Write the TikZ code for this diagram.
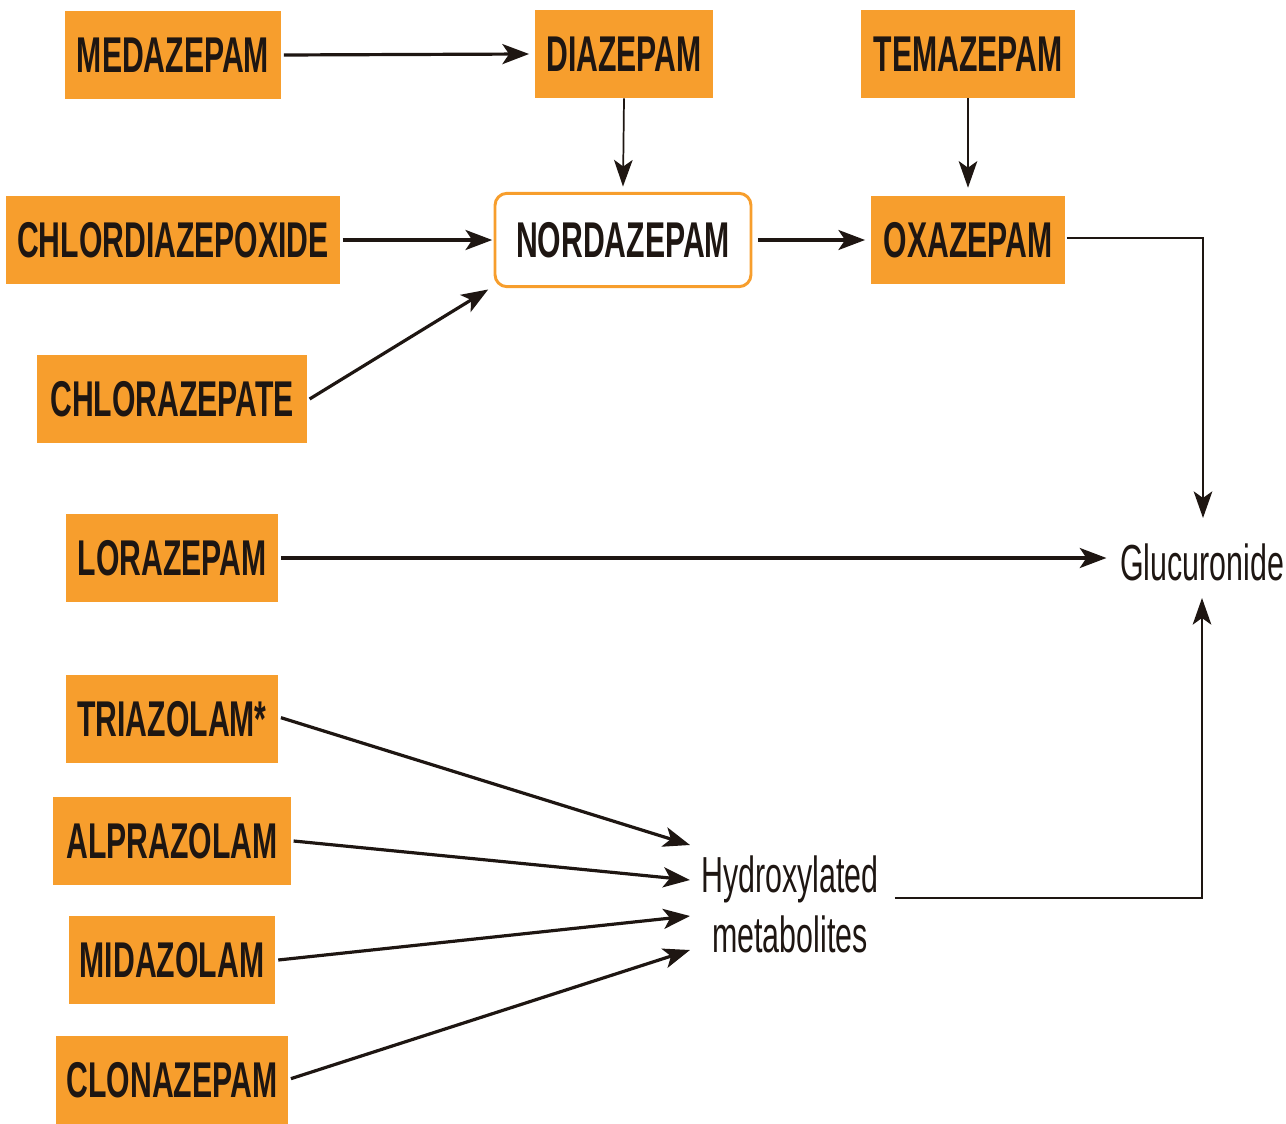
\documentclass[tikz,border=0pt]{standalone}
\usepackage{fontspec}
\usetikzlibrary{arrows.meta}
\newfontfamily\boxfont[FakeStretch=0.6]{Liberation Sans}
\definecolor{boxorange}{RGB}{247,158,45}
\definecolor{txt}{RGB}{30,22,18}
\begin{document}
\begin{tikzpicture}[x=0.75pt,y=-0.75pt,
  drug/.style={fill=boxorange, draw=none, text=txt, minimum height=66pt, inner sep=0pt,
    font=\boxfont\bfseries\fontsize{37.7}{40}\selectfont},
  plain/.style={text=txt, inner sep=2pt, align=center,
    font=\boxfont\fontsize{38}{44}\selectfont},
  thick arrow/.style={draw=txt, line width=2.4pt, -{Stealth[length=20pt,width=15pt,inset=5pt]}},
  thin arrow/.style={draw=txt, line width=1.3pt, -{Stealth[length=20pt,width=14pt,inset=5pt]}}]
\useasboundingbox (0,0) rectangle (1286,1124);
% boxes
\node[drug, minimum width=162pt] (med) at (173,55) {MEDAZEPAM};
\node[drug, minimum width=134pt] (dia) at (624,54) {DIAZEPAM};
\node[drug, minimum width=161pt] (tem) at (968,54) {TEMAZEPAM};
\node[drug, minimum width=250pt] (chl) at (173,240) {CHLORDIAZEPOXIDE};
\node[drug, fill=white, draw=boxorange, line width=2.2pt, rounded corners=9pt, minimum width=192pt, minimum height=70pt] (nor) at (623,240) {NORDAZEPAM};
\node[drug, minimum width=146pt] (oxa) at (968,240) {OXAZEPAM};
\node[drug, minimum width=202pt] (cra) at (172,399) {CHLORAZEPATE};
\node[drug, minimum width=159pt] (lor) at (172,558) {LORAZEPAM};
\node[drug, minimum width=159pt] (tri) at (172,719) {TRIAZOLAM*};
\node[drug, minimum width=178pt] (alp) at (172,841) {ALPRAZOLAM};
\node[drug, minimum width=155pt] (mid) at (172,960) {MIDAZOLAM};
\node[drug, minimum width=174pt] (clo) at (172,1080) {CLONAZEPAM};
\node[plain] (glu) at (1202,562) {Glucuronide};
\node[plain, font=\boxfont\fontsize{38}{45}\selectfont] (hyd) at (790,904) {Hydroxylated\\metabolites};
% coordinates
\coordinate (gluin) at (1203,518);
\coordinate (gluout) at (1202,598);
\coordinate (hycorner) at (1202,898);
\coordinate (trit) at (690,845);
\coordinate (alpt) at (690,880);
\coordinate (midt) at (690,916);
\coordinate (clot) at (690,950);
% connectors
\draw[thick arrow] ([xshift=2pt]med.east) -- ([xshift=-4pt]dia.west);
\draw[thin arrow] (dia.south) -- ([yshift=4pt]nor.north);
\draw[thin arrow] (tem.south) -- ([yshift=6pt]oxa.north);
\draw[thick arrow] ([xshift=2pt]chl.east) -- ([xshift=-1pt]nor.west);
\draw[thick arrow] ([xshift=2pt]cra.east) -- ([xshift=-4pt,yshift=-1pt]nor.south west);
\draw[thick arrow] ([xshift=4pt]nor.east) -- ([xshift=-4pt]oxa.west);
\draw[thin arrow] ([xshift=1pt,yshift=1.5pt]oxa.east) -| (gluin);
\draw[thick arrow] ([xshift=2pt]lor.east) -- ([xshift=-8pt]lor.east -| glu.west);
\draw[thin arrow] ([xshift=10pt]hyd.east |- hycorner) -| (gluout);
\draw[thick arrow] ([xshift=2pt,yshift=1pt]tri.east) -- (trit);
\draw[thick arrow] ([xshift=2pt]alp.east) -- (alpt);
\draw[thick arrow] ([xshift=2pt]mid.east) -- (midt);
\draw[thick arrow] ([xshift=2pt,yshift=1pt]clo.east) -- (clot);
\end{tikzpicture}
\end{document}
